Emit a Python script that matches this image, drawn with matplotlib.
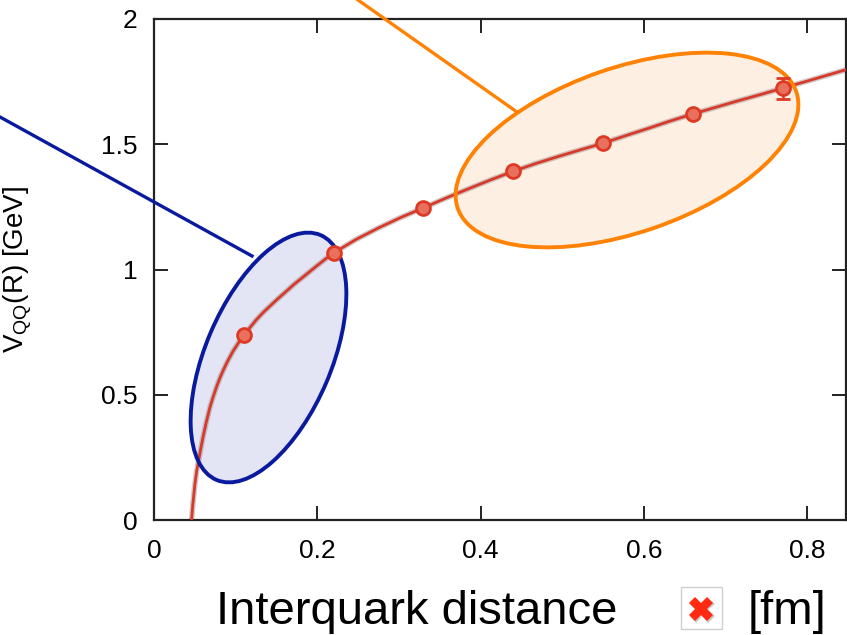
import matplotlib.pyplot as plt
from matplotlib.patches import Ellipse, Rectangle
from matplotlib.lines import Line2D

plt.rcParams['font.family'] = ['Liberation Sans', 'DejaVu Sans']
plt.rcParams['mathtext.fontset'] = 'custom'
plt.rcParams['mathtext.rm'] = 'Liberation Sans'

# lattice data points
r_data = [0.11, 0.22, 0.33, 0.44, 0.55, 0.66, 0.77]
v_data = [0.740, 1.066, 1.245, 1.392, 1.503, 1.621, 1.723]
v_err = [0.006, 0.006, 0.006, 0.006, 0.006, 0.008, 0.043]

# fitted potential
curve_r = [0.046, 0.0475, 0.050, 0.052, 0.0545, 0.057, 0.060, 0.064, 0.0687,
           0.073, 0.077, 0.081, 0.085, 0.090, 0.097, 0.104, 0.110, 0.118,
           0.125, 0.133, 0.142, 0.152, 0.162, 0.172, 0.183, 0.192, 0.200,
           0.210, 0.220, 0.2475, 0.275, 0.3025, 0.330, 0.3575, 0.385,
           0.4125, 0.440, 0.4675, 0.495, 0.5225, 0.550, 0.5775, 0.605,
           0.6325, 0.660, 0.6875, 0.715, 0.7425, 0.770, 0.800, 0.847]
curve_v = [0.0, 0.06, 0.14, 0.19, 0.235, 0.28, 0.33, 0.39, 0.452,
           0.497, 0.535, 0.569, 0.599, 0.633, 0.675, 0.710, 0.737, 0.770,
           0.798, 0.826, 0.854, 0.884, 0.913, 0.942, 0.971, 0.995, 1.016,
           1.042, 1.066, 1.120, 1.166, 1.208, 1.246, 1.285, 1.322,
           1.358, 1.392, 1.423, 1.451, 1.478, 1.504, 1.534, 1.563,
           1.593, 1.621, 1.647, 1.673, 1.698, 1.724, 1.752, 1.797]

xticks = [0, 0.2, 0.4, 0.6, 0.8]
xticklabels = ['0', '0.2', '0.4', '0.6', '0.8']
yticks = [0, 0.5, 1, 1.5, 2]
yticklabels = ['0', '0.5', '1', '1.5', '2']

W, H = 847, 635
fig = plt.figure(figsize=(W / 100, H / 100), dpi=100)
ax = fig.add_axes([154 / W, 1 - 520 / H, (845.5 - 154) / W, (520 - 19) / H])
ax.set_xlim(0, 0.847)
ax.set_ylim(0, 2)

def px(x, y):
    # pixel (from top-left) -> inches for dpi_scale_trans
    return x / 100, (H - y) / 100

# highlight ellipses (fill behind, edge on top of curve)
blue_c, orange_c = '#0a1a9e', '#ff8205'
for (cx, cy), w, h, ang, fc, ec in [((268.5, 357.5), 266, 126, 67, '#e3e5f5', blue_c),
                                    ((627, 150), 358, 165, 19, '#fdf0e3', orange_c)]:
    ax.add_patch(Ellipse(px(cx, cy), w / 100, h / 100, angle=ang,
                         transform=fig.dpi_scale_trans, facecolor=fc,
                         edgecolor='none', zorder=1))
    ax.add_patch(Ellipse(px(cx, cy), w / 100, h / 100, angle=ang,
                         transform=fig.dpi_scale_trans, facecolor='none',
                         edgecolor=ec, lw=2.8, zorder=4))

# curve with soft shadow
ax.plot(curve_r, curve_v, color='#a89090', lw=4.0, alpha=0.5, zorder=2,
        solid_capstyle='round')
ax.plot(curve_r, curve_v, color='#d63a2a', lw=2.0, zorder=3)

ax.errorbar(r_data, v_data, yerr=v_err, fmt='o', ms=10, mfc='#e8705c',
            mec='#dd3a25', mew=2.0, ecolor='#dd3a25', elinewidth=1.8,
            capsize=5, capthick=1.8, zorder=5)

ax.set_xticks(xticks)
ax.set_xticklabels(xticklabels)
ax.set_yticks(yticks)
ax.set_yticklabels(yticklabels)
ax.tick_params(direction='in', length=10, width=1.4, labelsize=19,
               top=True, right=True, color='#222222')
ax.tick_params(axis='x', pad=14)
ax.tick_params(axis='y', pad=12)
for s in ax.spines.values():
    s.set_linewidth(1.6)
    s.set_color('#222222')

ax.set_ylabel(r'V$_{\mathrm{QQ}}$(R) [GeV]', fontsize=20)
ax.yaxis.set_label_coords(-0.172, 0.5)

# leader lines
for (x0, y0, x1, y1), c in [((0, 117, 252, 256), blue_c),
                            ((358, 0, 517, 112), orange_c)]:
    fig.add_artist(Line2D([x0 / W, x1 / W], [1 - y0 / H, 1 - y1 / H],
                          transform=fig.transFigure, color=c, lw=2.4,
                          clip_on=False, zorder=6))

# x label with marker box
fig.text(216 / W, 1 - 624 / H, 'Interquark distance', fontsize=34,
         ha='left', va='baseline')
fig.add_artist(Rectangle((681 / W, 1 - 629 / H), 41 / W, 42 / H,
                         transform=fig.transFigure, facecolor='white',
                         edgecolor='#cfcfcf', lw=1.0))
fig.add_artist(Line2D([702 / W], [1 - 610 / H], transform=fig.transFigure,
                      marker='X', ms=18, color='#909090', mew=0, alpha=0.5,
                      linestyle='none'))
fig.add_artist(Line2D([701 / W], [1 - 608.5 / H], transform=fig.transFigure,
                      marker='X', ms=17, color='#ff2a10', mew=0,
                      linestyle='none'))
fig.text(748 / W, 1 - 624 / H, '[fm]', fontsize=34, ha='left', va='baseline')

fig.savefig('out.png', dpi=100)
